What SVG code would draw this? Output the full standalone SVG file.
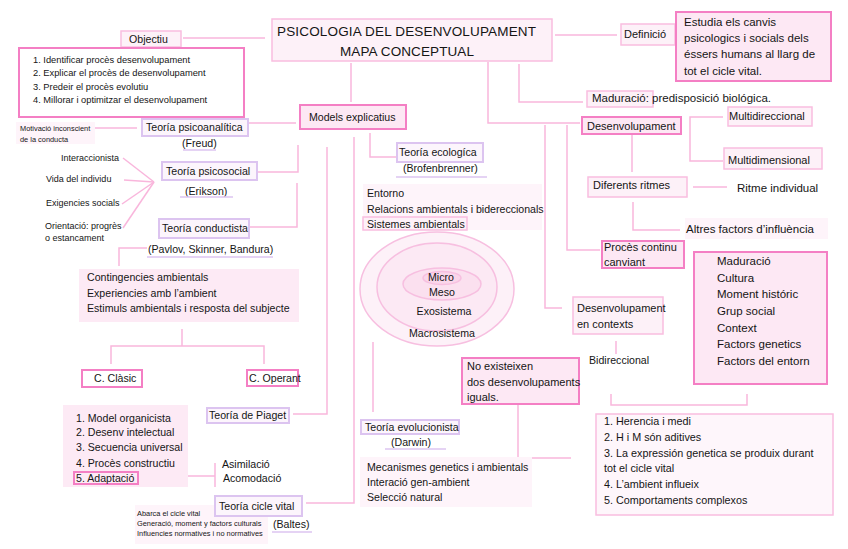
<svg xmlns="http://www.w3.org/2000/svg" width="848" height="549" viewBox="0 0 848 549">
<style>
text{font-family:"Liberation Sans",Arial,sans-serif;fill:#151515}
.hot{fill:#fde8f4;stroke:#f47fc4;stroke-width:2}
.hotw{fill:#ffffff;stroke:#f47fc4;stroke-width:2}
.lt{fill:#fdf1f8;stroke:#f9bddf;stroke-width:1.5}
.lav{fill:#fcf5fc;stroke:#dcc4f0;stroke-width:2}
.soft{fill:#fdeaf5}
.vsoft{fill:#fef4fa}
.ln{stroke:#f9b6dc;stroke-width:1.5;fill:none}
.ul{stroke:#dcc4f0;stroke-width:1.5}
.ell{stroke:#f7bfe0;stroke-width:1.5}
.s7{font-size:7.4px}.s8{font-size:9px}.s9{font-size:9.3px}.s10{font-size:10.6px}.s11{font-size:11px}.s12{font-size:11.5px}
</style>
<rect width="848" height="549" fill="#ffffff"/>
<g id="connectors">
<line class="ln" x1="183" y1="38" x2="265" y2="38"/>
<line class="ln" x1="555" y1="35" x2="617" y2="35"/>
<line class="ln" x1="351" y1="63" x2="351" y2="102"/>
<line class="ln" x1="95" y1="128" x2="137" y2="128"/>
<line class="ln" x1="248" y1="123" x2="296" y2="123"/>
<polyline class="ln" points="257,172 298,172 298,145"/>
<polyline class="ln" points="250,227 297,227 297,183"/>
<polyline class="ln" points="147,248 119,248 119,266"/>
<polyline class="ln" points="293,414 327,414 327,147"/>
<polyline class="ln" points="306,503 354,503 354,137"/>
<polyline class="ln" points="370,133 370,157 397,157"/>
<line class="ln" x1="373" y1="342" x2="373" y2="412"/>
<line class="ln" x1="123" y1="158" x2="154" y2="182"/>
<line class="ln" x1="124" y1="180" x2="154" y2="182"/>
<line class="ln" x1="122" y1="204" x2="154" y2="182"/>
<line class="ln" x1="123" y1="228" x2="154" y2="182"/>
<line class="ln" x1="182" y1="329" x2="182" y2="346"/>
<polyline class="ln" points="111,364 111,346 264,346 264,364"/>
<line class="ln" x1="138" y1="476" x2="215" y2="476"/>
<line class="ln" x1="215" y1="463" x2="215" y2="487"/>
<polyline class="ln" points="519,64 519,102 583,102"/>
<polyline class="ln" points="488,62 488,123 580,123"/>
<polyline class="ln" points="545,125 545,308 562,308"/>
<polyline class="ln" points="567,125 567,250 600,250"/>
<line class="ln" x1="632" y1="135" x2="632" y2="172"/>
<line class="ln" x1="693" y1="187" x2="727" y2="187"/>
<polyline class="ln" points="633,202 633,230 680,230"/>
<polyline class="ln" points="723,117 690,117 690,161 723,161"/>
<line class="ln" x1="616" y1="341" x2="616" y2="354"/>
<polyline class="ln" points="611,394 611,405 747,405 747,394"/>
<polyline class="ln" points="518,405 518,458 571,458"/>
</g>
<g id="title">
<rect class="lt" x="272" y="19" width="280" height="42"/>
<text x="277" y="36" font-size="13.5" textLength="259">PSICOLOGIA DEL DESENVOLUPAMENT</text>
<text x="340" y="56" font-size="13.5" textLength="134">MAPA CONCEPTUAL</text>
</g>
<g id="objectiu">
<rect class="lt" x="121" y="31" width="60" height="16"/>
<text class="s10" x="129" y="43">Objectiu</text>
</g>
<g id="objectius-llista">
<rect class="hotw" x="19" y="48" width="225" height="69"/>
<text class="s9" x="33" y="63">1. Identificar procès desenvolupament</text>
<text class="s9" x="33" y="76">2. Explicar el procès de desenvolupament</text>
<text class="s9" x="33" y="90">3. Predeir el procès evolutiu</text>
<text class="s9" x="33" y="103">4. Millorar i optimitzar el desenvolupament</text>
</g>
<g id="motivacio">
<rect class="vsoft" x="16" y="122" width="79" height="22"/>
<text class="s7" x="20" y="131">Motivació inconscient</text>
<text class="s7" x="20" y="142">de la conducta</text>
</g>
<g id="psicoanalitica">
<rect class="lav" x="142" y="119" width="106" height="17"/>
<text class="s10" x="146" y="131">Teoría psicoanalítica</text>
<text class="s10" x="182" y="147">(Freud)</text>
<line class="ul" x1="183" y1="150" x2="216" y2="150"/>
</g>
<g id="models">
<rect class="hot" x="300" y="105" width="106" height="24"/>
<text class="s10" x="309" y="121">Models explicatius</text>
</g>
<g id="psicosocial">
<rect class="lav" x="162" y="162" width="95" height="18"/>
<text class="s10" x="166" y="175">Teoría psicosocial</text>
<text class="s10" x="185" y="195">(Erikson)</text>
<line class="ul" x1="180" y1="197" x2="233" y2="197"/>
</g>
<g id="erikson-items">
<text class="s8" x="61" y="161">Interaccionista</text>
<text class="s8" x="46" y="182">Vida del individu</text>
<text class="s8" x="46" y="206">Exigencies socials</text>
<text class="s8" x="45" y="229">Orientació: progrès</text>
<text class="s8" x="45" y="241">o estancament</text>
</g>
<g id="conductista">
<rect class="lav" x="159" y="219" width="90" height="19"/>
<text class="s10" x="162" y="232">Teoría conductista</text>
<text class="s10" x="148" y="253">(Pavlov, Skinner, Bandura)</text>
<line class="ul" x1="147" y1="257" x2="273" y2="257"/>
</g>
<g id="contingencies">
<rect class="soft" x="79" y="269" width="220" height="53"/>
<text class="s10" x="87" y="281">Contingencies ambientals</text>
<text class="s10" x="87" y="297">Experiencies amb l’ambient</text>
<text class="s10" x="87" y="312">Estimuls ambientals i resposta del subjecte</text>
</g>
<g id="classic">
<rect class="hotw" x="82" y="370" width="60" height="17"/>
<text class="s10" x="94" y="382">C. Clàsic</text>
</g>
<g id="operant">
<rect class="hotw" x="247" y="370" width="51" height="16"/>
<text class="s10" x="249" y="382">C. Operant</text>
</g>
<g id="piaget-llista">
<rect class="soft" x="63" y="405" width="125" height="82"/>
<text class="s10" x="76" y="422">1. Model organicista</text>
<text class="s10" x="76" y="436">2. Desenv intelectual</text>
<text class="s10" x="76" y="451">3. Secuencia universal</text>
<text class="s10" x="76" y="467">4. Procès constructiu</text>
<rect x="74" y="472" width="64" height="12" style="fill:none;stroke:#f47fc4;stroke-width:2"/>
<text class="s10" x="76" y="482">5. Adaptació</text>
</g>
<g id="asimilacio">
<text class="s10" x="222" y="468">Asimilació</text>
<text class="s10" x="223" y="482">Acomodació</text>
</g>
<g id="piaget">
<rect class="lav" x="207" y="408" width="82" height="15"/>
<text class="s10" x="209" y="419">Teoría de Piaget</text>
</g>
<g id="cicle-vital-text">
<rect class="vsoft" x="135" y="505" width="133" height="39"/>
<text class="s7" x="137" y="516">Abarca el cicle vital</text>
<text class="s7" x="137" y="526">Generació, moment y factors culturals</text>
<text class="s7" x="137" y="536">Influencies normatives i no normatives</text>
</g>
<g id="cicle-vital">
<rect class="lav" x="215" y="496" width="87" height="20"/>
<text class="s10" x="219" y="510">Teoría cicle vital</text>
<text class="s10" x="273" y="528">(Baltes)</text>
<line class="ul" x1="272" y1="532" x2="312" y2="532"/>
</g>
<g id="ecologica">
<rect class="lav" x="397" y="143" width="86" height="19"/>
<text class="s10" x="399" y="156">Teoría ecologíca</text>
<text class="s10" x="403" y="172">(Brofenbrenner)</text>
<line class="ul" x1="396" y1="177" x2="487" y2="177"/>
</g>
<g id="entorno">
<rect class="vsoft" x="363" y="184" width="179" height="46"/>
<text class="s10" x="367" y="197">Entorno</text>
<text class="s10" x="367" y="213">Relacions ambientals i bidereccionals</text>
<rect class="lt" x="363" y="217" width="104" height="13"/>
<text class="s10" x="367" y="228">Sistemes ambientals</text>
</g>
<g id="sistemes">
<ellipse class="ell" cx="437" cy="289" rx="77" ry="57" fill="#fdf1f8"/>
<ellipse class="ell" cx="437" cy="287" rx="60" ry="44" fill="#fce9f4"/>
<ellipse class="ell" cx="442" cy="284" rx="39" ry="16" fill="#fbe0ef"/>
<ellipse class="ell" cx="442" cy="278" rx="19" ry="6.5" fill="#fad6ea"/>
<text class="s10" x="441" y="281" text-anchor="middle">Micro</text>
<text class="s10" x="442" y="296" text-anchor="middle">Meso</text>
<text class="s10" x="444" y="315" text-anchor="middle">Exosistema</text>
<text class="s10" x="442" y="337" text-anchor="middle">Macrosistema</text>
</g>
<g id="evolucionista">
<rect class="lav" x="361" y="420" width="98" height="14"/>
<text class="s10" x="365" y="431">Teoría evolucionista</text>
<text class="s10" x="391" y="446">(Darwin)</text>
<line class="ul" x1="385" y1="449" x2="446" y2="449"/>
</g>
<g id="mecanismes">
<rect class="vsoft" x="360" y="457" width="172" height="50"/>
<text class="s10" x="367" y="471">Mecanismes genetics i ambientals</text>
<text class="s10" x="367" y="486">Interació gen-ambient</text>
<text class="s10" x="367" y="501">Selecció natural</text>
</g>
<g id="no-existeixen">
<rect class="hot" x="462" y="358" width="117" height="46"/>
<text class="s11" x="467" y="370">No existeixen</text>
<text class="s11" x="467" y="386">dos desenvolupaments</text>
<text class="s11" x="467" y="401">iguals.</text>
</g>
<g id="definicio">
<rect class="lt" x="621" y="24" width="54" height="21"/>
<text class="s11" x="624" y="38">Definició</text>
</g>
<g id="definicio-text">
<rect class="hot" x="676" y="12" width="155" height="69"/>
<text class="s12" x="684" y="26">Estudia els canvis</text>
<text class="s12" x="684" y="42">psicologics i socials dels</text>
<text class="s12" x="684" y="58">éssers humans al llarg de</text>
<text class="s12" x="684" y="75">tot el cicle vital.</text>
</g>
<g id="maduracio">
<rect class="lt" x="587" y="91" width="66" height="16"/>
<text class="s12" x="592" y="102">Maduració: predisposició biológica.</text>
</g>
<g id="desenvolupament">
<rect class="hot" x="582" y="117" width="99" height="17"/>
<text class="s11" x="587" y="130">Desenvolupament</text>
</g>
<g id="multidireccional">
<rect class="lt" x="728" y="107" width="84" height="19"/>
<text class="s11" x="729" y="120">Multidireccional</text>
</g>
<g id="multidimensional">
<rect class="lt" x="724" y="148" width="98" height="21"/>
<text class="s11" x="728" y="164">Multidimensional</text>
</g>
<g id="ritmes">
<rect class="lt" x="588" y="177" width="99" height="20"/>
<text class="s11" x="593" y="189">Diferents ritmes</text>
</g>
<g id="ritme-individual">
<text class="s12" x="737" y="192">Ritme individual</text>
</g>
<g id="altres-factors">
<rect class="vsoft" x="685" y="218" width="143" height="21"/>
<text class="s12" x="686" y="233">Altres factors d’influència</text>
</g>
<g id="proces-continu">
<rect class="hot" x="602" y="241" width="82" height="27"/>
<text class="s11" x="604" y="251">Procès continu</text>
<text class="s11" x="604" y="266">canviant</text>
</g>
<g id="factors">
<rect class="hot" x="694" y="252" width="133" height="132"/>
<text class="s12" x="717" y="265">Maduració</text>
<text class="s12" x="717" y="282">Cultura</text>
<text class="s12" x="717" y="298">Moment históric</text>
<text class="s12" x="717" y="315">Grup social</text>
<text class="s12" x="717" y="332">Context</text>
<text class="s12" x="717" y="348">Factors genetics</text>
<text class="s12" x="717" y="365">Factors del entorn</text>
</g>
<g id="contexts">
<rect class="lt" x="573" y="297" width="90" height="37"/>
<text class="s11" x="577" y="312">Desenvolupament</text>
<text class="s11" x="577" y="328">en contexts</text>
</g>
<g id="bidireccional">
<text class="s10" x="589" y="364">Bidireccional</text>
</g>
<g id="herencia">
<rect class="lt" x="596" y="414" width="237" height="101" style="fill:#fef6fb"/>
<text class="s10" x="604" y="425" style="font-size:10.8px">1. Herencia i medi</text>
<text class="s10" x="604" y="441" style="font-size:10.8px">2. H i M són aditives</text>
<text class="s10" x="604" y="457" style="font-size:10.8px">3. La expressión genetica se produix durant</text>
<text class="s10" x="604" y="472" style="font-size:10.8px">tot el cicle vital</text>
<text class="s10" x="604" y="488" style="font-size:10.8px">4. L’ambient influeix</text>
<text class="s10" x="604" y="504" style="font-size:10.8px">5. Comportaments complexos</text>
</g>
</svg>
